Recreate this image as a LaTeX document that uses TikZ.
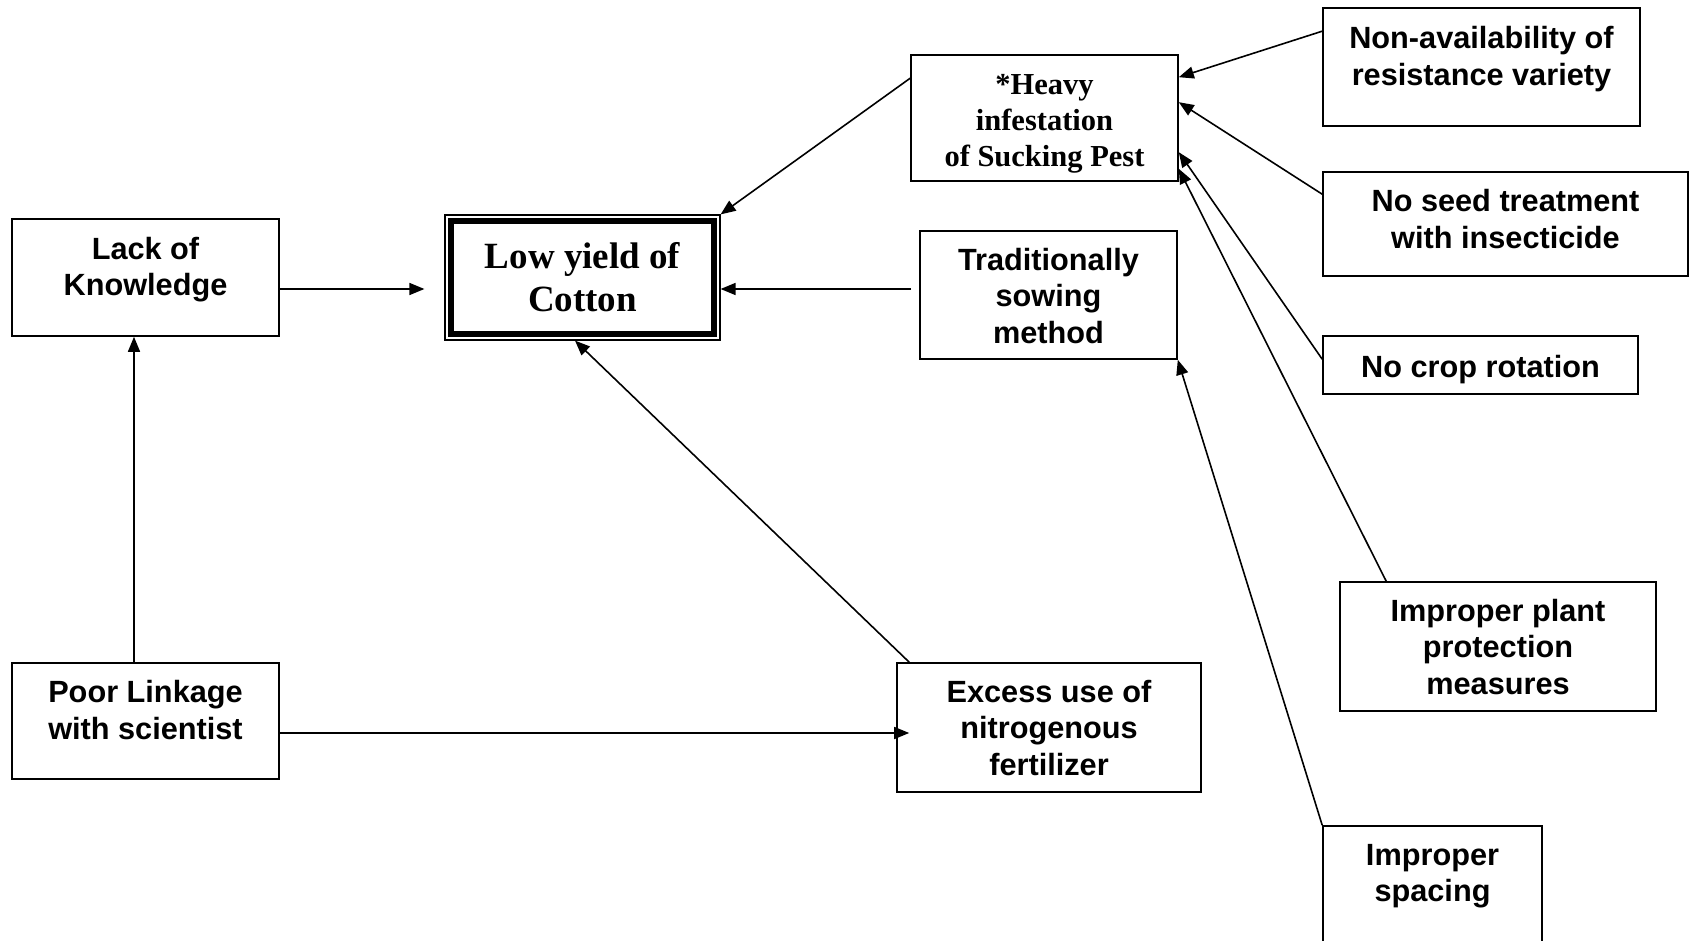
\documentclass[tikz,border=0pt]{standalone}
\usepackage{fontspec}
\setmainfont{Liberation Serif}
\newfontfamily\arialfont{Liberation Sans}
\usetikzlibrary{arrows.meta}

\begin{document}
\begin{tikzpicture}[x=1pt,y=-1pt,
  box/.style={draw, rectangle, line width=1.6pt, inner sep=0pt},
  sans/.style={font=\arialfont\bfseries\fontsize{30.7}{36.5}\selectfont, align=center, inner sep=0pt},
  serif/.style={font=\bfseries\fontsize{30.5}{36}\selectfont, align=center, inner sep=0pt},
  bigserif/.style={font=\bfseries\fontsize{37}{43}\selectfont, align=center, inner sep=0pt},
  arr/.style={-{Triangle[length=15pt,width=12pt]}, line width=1.6pt}]

% canvas
\clip (0,0) rectangle (1690,941);
\fill[white] (0,0) rectangle (1690,941);

% boxes
\node[box, minimum width=267pt, minimum height=117pt] (lack) at (145.5,277.5) {};
\node[box, minimum width=267pt, minimum height=116pt] (poor) at (145.5,721) {};
\node[box, line width=1.2pt, minimum width=275pt, minimum height=125pt] (low) at (582.5,277.5) {};
\draw[line width=6pt] ([xshift=6.5pt,yshift=-6.5pt]low.north west) rectangle ([xshift=-6.5pt,yshift=6.5pt]low.south east);
\node[box, minimum width=267pt, minimum height=126pt] (heavy) at (1044.5,118) {};
\node[box, minimum width=257pt, minimum height=128pt] (trad) at (1048.5,295) {};
\node[box, minimum width=304pt, minimum height=129pt] (excess) at (1049,727.5) {};
\node[box, minimum width=317pt, minimum height=118pt] (nonav) at (1481.5,67) {};
\node[box, minimum width=365pt, minimum height=104pt] (seed) at (1505.5,224) {};
\node[box, minimum width=315pt, minimum height=58pt] (rot) at (1480.5,365) {};
\node[box, minimum width=316pt, minimum height=129pt] (ppm) at (1498,646.5) {};
\node[box, minimum width=219pt, minimum height=134pt] (spacing) at (1432.5,893) {};

% texts
\node[sans] (lack-t) at (145.5,269.5) {Lack of\\Knowledge};
\node[sans] (poor-t) at (145.5,710) {Poor Linkage\\with scientist};
\node[bigserif] (low-t) at (582.5,277) {Low yield of\\Cotton};
\node[serif] (heavy-t) at (1044.5,124.3) {*Heavy\\infestation\\of Sucking Pest};
\node[sans] (trad-t) at (1048.5,296) {Traditionally\\sowing\\method};
\node[sans] (excess-t) at (1049,728) {Excess use of\\nitrogenous\\fertilizer};
\node[sans] (nonav-t) at (1481.5,59.2) {Non-availability of\\resistance variety};
\node[sans] (seed-t) at (1505.5,219) {No seed treatment\\with insecticide};
\node[sans] (rot-t) at (1480.5,369.3) {No crop rotation};
\node[sans] (ppm-t) at (1498,647) {Improper plant\\protection\\measures};
\node[sans] (spacing-t) at (1432.5,876.2) {Improper\\spacing};

% connectors
\draw[arr] ([yshift=-11.5pt]lack.east) -- ([xshift=-20pt,yshift=-11.5pt]low.west);
\draw[arr] ([xshift=-11.5pt]poor.north) -- ([xshift=-11.5pt]lack.south);
\draw[arr] ([yshift=-12pt]poor.east) -- ([xshift=13pt,yshift=-5.5pt]excess.west);
\draw[arr] ([xshift=13pt]excess.north west) -- ([xshift=-7.5pt]low.south);
\draw[arr] ([xshift=-8pt,yshift=6pt]trad.west) -- ([yshift=-11.5pt]low.east);
\draw[arr] ([yshift=-24pt]heavy.north west) -- (low.north east);
\draw[arr] ([yshift=-24pt]nonav.north west) -- ([yshift=-23pt]heavy.north east);
\draw[arr] ([yshift=-23pt]seed.north west) -- ([yshift=-48pt]heavy.north east);
\draw[arr] ([yshift=-24pt]rot.north west) -- ([yshift=-98pt]heavy.north east);
\draw[arr] ([xshift=47pt]ppm.north west) -- ([yshift=13pt]heavy.south east);
\draw[arr] (spacing.north west) -- (trad.south east);
\end{tikzpicture}
\end{document}
